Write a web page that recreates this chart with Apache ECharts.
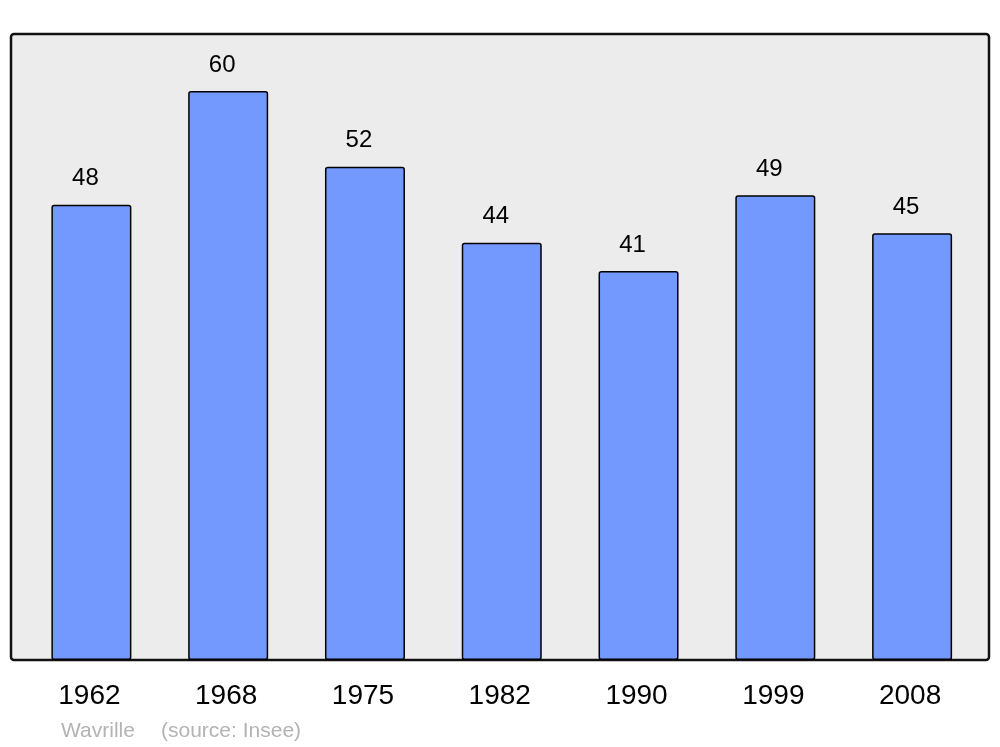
<!DOCTYPE html>
<html>
<head>
<meta charset="utf-8">
<script src="https://cdn.jsdelivr.net/npm/echarts@6/dist/echarts.min.js"></script>
<style>html,body{margin:0;padding:0;background:#fff;}#c{width:1000px;height:747px;}</style>
</head>
<body>
<div id="c"></div>
<script>
const years = ['1962', '1968', '1975', '1982', '1990', '1999', '2008'];
const population = [48, 60, 52, 44, 41, 49, 45];
const footerName = 'Wavrille';
const footerSource = '(source: Insee)';

const chart = echarts.init(document.getElementById('c'), null, {renderer: 'canvas'});
chart.setOption({
  animation: false,
  backgroundColor: '#ffffff',
  title: [
    {text: footerName, left: 56, top: 716, textStyle: {fontFamily: 'Liberation Sans', fontSize: 21, fontWeight: 'normal', color: '#b3b3b3'}},
    {text: footerSource, left: 156, top: 716, textStyle: {fontFamily: 'Liberation Sans', fontSize: 21, fontWeight: 'normal', color: '#b3b3b3'}}
  ],
  graphic: [{
    type: 'rect', z: -10, silent: true,
    shape: {x: 11, y: 34, width: 978, height: 626, r: 3},
    style: {fill: '#ececec', stroke: '#111111', lineWidth: 2.5}
  }],
  grid: {left: 23, right: 19.5, top: 34, bottom: 87},
  xAxis: {
    type: 'category', data: years,
    axisLine: {show: false}, axisTick: {show: false},
    axisLabel: {fontFamily: 'Liberation Sans', fontSize: 28, color: '#000', margin: 22, padding: [0, 4, 0, 0], formatter: v => v}
  },
  yAxis: {type: 'value', min: 0, max: 66, show: false, splitLine: {show: false}},
  series: [{
    type: 'bar', data: population, barWidth: 80,
    itemStyle: {color: '#7399ff', borderColor: '#000', borderWidth: 1.5, borderRadius: 2},
    label: {show: true, position: 'top', distance: 14, offset: [-6, 0], fontFamily: 'Liberation Sans', fontSize: 24, color: '#000'}
  }]
});
</script>
</body>
</html>
